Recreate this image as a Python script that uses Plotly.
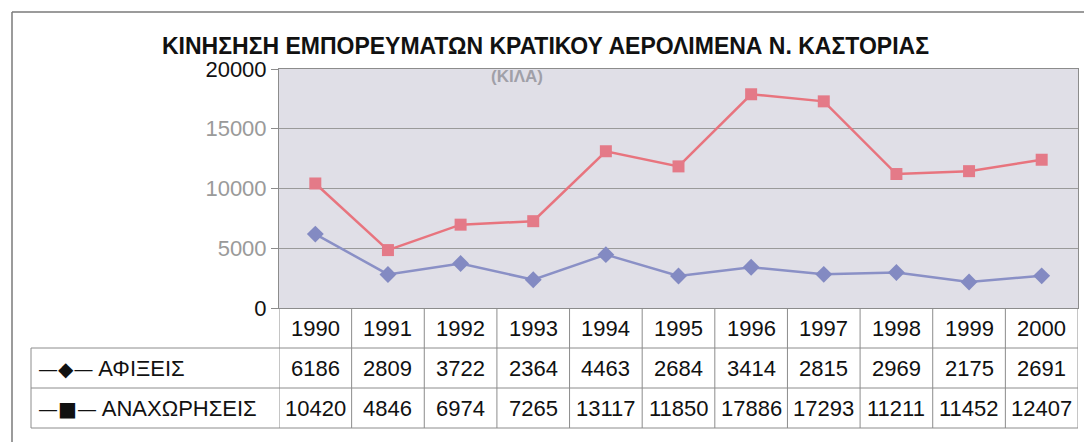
import plotly.graph_objects as go

years = ["1990", "1991", "1992", "1993", "1994", "1995", "1996", "1997", "1998", "1999", "2000"]
arrivals = [6186, 2809, 3722, 2364, 4463, 2684, 3414, 2815, 2969, 2175, 2691]
departures = [10420, 4846, 6974, 7265, 13117, 11850, 17886, 17293, 11211, 11452, 12407]
series_names = ["ΑΦΙΞΕΙΣ", "ΑΝΑΧΩΡΗΣΕΙΣ"]
y_ticks = [0, 5000, 10000, 15000, 20000]

W, H = 1086, 442
PLOT_L, PLOT_R, PLOT_T, PLOT_B = 279, 1078, 69, 308
ROW_H = 40
TABLE_L = 31
GRID = "#8c8c8c"
FONT = "Liberation Sans, Arial, sans-serif"


def px(x):
    return x / W


def py(y):
    return 1 - y / H


fig = go.Figure()
fig.add_trace(
    go.Scatter(
        x=years, y=arrivals, name=series_names[0], mode="lines+markers",
        line=dict(color="#8a90c6", width=2.5),
        marker=dict(symbol="diamond", size=13, color="#838ac2"),
    )
)
fig.add_trace(
    go.Scatter(
        x=years, y=departures, name=series_names[1], mode="lines+markers",
        line=dict(color="#e8747e", width=2.5),
        marker=dict(symbol="square", size=12, color="#e47a88"),
    )
)

tick_text = []
for v in y_ticks:
    col = "#111111" if v in (0, 20000) else "#9a9a9a"
    tick_text.append(f'<span style="color:{col}">{v}</span>')

shapes = []
annotations = []

# outer frame
shapes.append(dict(type="line", xref="paper", yref="paper", x0=px(12), x1=px(1084), y0=py(12), y1=py(12),
                   line=dict(color="#7a7a7a", width=1.5)))
shapes.append(dict(type="line", xref="paper", yref="paper", x0=px(12), x1=px(12), y0=py(12), y1=py(442),
                   line=dict(color="#7a7a7a", width=1.5)))

# table horizontal lines
for i in range(1, 4):
    yy = PLOT_B + i * ROW_H
    shapes.append(dict(type="line", xref="paper", yref="paper", x0=px(TABLE_L), x1=px(PLOT_R),
                       y0=py(yy), y1=py(yy), line=dict(color=GRID, width=1)))
# table vertical lines
for i in range(len(years) + 1):
    shapes.append(dict(type="line", xref="x", yref="paper", x0=i - 0.5, x1=i - 0.5,
                       y0=py(PLOT_B), y1=py(PLOT_B + 3 * ROW_H), line=dict(color=GRID, width=1)))
shapes.append(dict(type="line", xref="paper", yref="paper", x0=px(TABLE_L), x1=px(TABLE_L),
                   y0=py(PLOT_B + ROW_H), y1=py(PLOT_B + 3 * ROW_H), line=dict(color=GRID, width=1)))

# table text
rows = [years, arrivals, departures]
for r, row in enumerate(rows):
    yc = PLOT_B + r * ROW_H + ROW_H / 2
    for i, val in enumerate(row):
        annotations.append(dict(x=i, y=py(yc), xref="x", yref="paper", text=str(val), showarrow=False,
                                xanchor="center", yanchor="middle",
                                font=dict(size=22, color="#111111", family=FONT)))

keys = ["—◆—", "—■—"]
for r, (key, name) in enumerate(zip(keys, series_names)):
    yc = PLOT_B + (r + 1) * ROW_H + ROW_H / 2
    annotations.append(dict(x=px(36), y=py(yc), xref="paper", yref="paper", xanchor="left", yanchor="middle",
                            text=f'<span style="font-family:DejaVu Sans;font-size:20px">{key}</span> {name}',
                            showarrow=False, font=dict(size=22, color="#111111", family=FONT)))

annotations.append(dict(x=px(545), y=py(46), xref="paper", yref="paper", xanchor="center", yanchor="middle",
                        text="<b>ΚΙΝΗΣΗΣΗ ΕΜΠΟΡΕΥΜΑΤΩΝ ΚΡΑΤΙΚΟΥ ΑΕΡΟΛΙΜΕΝΑ Ν. ΚΑΣΤΟΡΙΑΣ</b>",
                        showarrow=False, font=dict(size=23, color="#111111", family=FONT)))
annotations.append(dict(x=px(517), y=py(76), xref="paper", yref="paper", xanchor="center", yanchor="middle",
                        text="<b>(ΚΙΛΑ)</b>",
                        showarrow=False, font=dict(size=17, color="#a0a0a8", family=FONT)))

fig.update_layout(
    width=W, height=H,
    margin=dict(l=0, r=0, t=0, b=0, pad=0),
    paper_bgcolor="white",
    plot_bgcolor="#e0dfe7",
    showlegend=False,
    font=dict(family=FONT, color="#111111"),
    xaxis=dict(domain=[px(PLOT_L), px(PLOT_R)], type="category", range=[-0.5, 10.5],
               showticklabels=False, showgrid=False, zeroline=False, ticks="",
               showline=True, linecolor=GRID, mirror=True, automargin=False),
    yaxis=dict(domain=[py(PLOT_B), py(PLOT_T)], range=[0, 20000], tickvals=y_ticks, ticktext=tick_text,
               tickfont=dict(size=22, family=FONT), ticks="outside", ticklen=7, tickcolor=GRID,
               showgrid=True, gridcolor="#9a9a9a", gridwidth=1.2, zeroline=False,
               showline=True, linecolor=GRID, mirror=True, automargin=False),
    shapes=shapes,
    annotations=annotations,
)

fig.write_html("out.html", config={"displayModeBar": False},
               post_script="document.body.style.margin='0';")
